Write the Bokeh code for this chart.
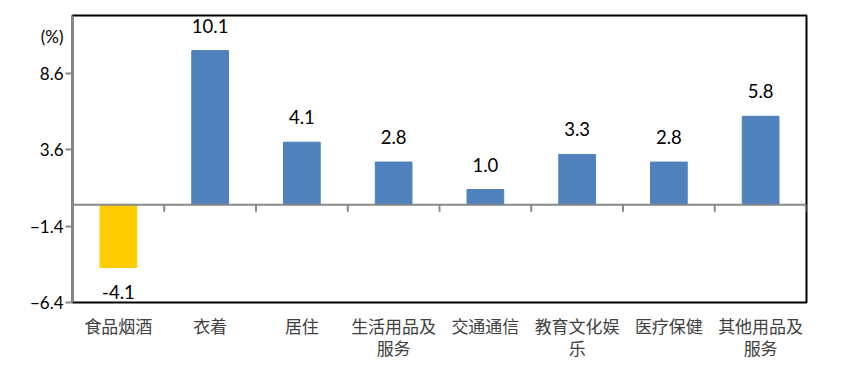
from bokeh.plotting import figure
from bokeh.models import Range1d, FixedTicker, Span, ColumnDataSource, LinearAxis
from bokeh.core.properties import value
from bokeh.embed import file_html
from bokeh.resources import INLINE

categories = ["食品烟酒", "衣着", "居住", "生活用品及服务", "交通通信", "教育文化娱乐", "医疗保健", "其他用品及服务"]
axis_labels = ["食品烟酒", "衣着", "居住", "生活用品及\n服务", "交通通信", "教育文化娱\n乐", "医疗保健", "其他用品及\n服务"]
values = [-4.1, 10.1, 4.1, 2.8, 1.0, 3.3, 2.8, 5.8]
y_ticks = [-6.4, -1.4, 3.6, 8.6]
unit_label = "(%)"
unit_pos = 11.0
y_min, y_max = -6.4, 12.4

BLUE = "#4F81BD"
YELLOW = "#FFCC00"
GRAY = "#898989"
NUM_FONT = "Lato"
CJK_FONT = "Noto Sans CJK SC"

n = len(categories)
centers = [i + 0.5 for i in range(n)]
colors = [YELLOW if v < 0 else BLUE for v in values]
labels = [f"{v:.1f}" for v in values]
offsets = [25 if v < 0 else -25 for v in values]

src = ColumnDataSource(dict(x=centers, top=values, color=colors, label=labels, off=offsets, cat=categories))

p = figure(width=834, height=361, frame_width=734, frame_height=287,
           x_range=Range1d(0, n), y_range=Range1d(y_min, y_max),
           output_backend="svg", toolbar_location=None, y_axis_location=None,
           min_border_left=72, min_border_right=28, min_border_top=15, min_border_bottom=59)
p.grid.visible = False
p.outline_line_color = "black"
p.outline_line_width = 2
p.background_fill_color = "white"
p.border_fill_color = "white"

p.vbar(x="x", top="top", bottom=0, width=0.4, color="color", source=src)

# zero baseline with category-boundary ticks
p.add_layout(Span(location=0, dimension="width", line_color=GRAY, line_width=2))
p.segment(x0=list(range(1, n + 1)), y0=[0] * n, x1=list(range(1, n + 1)), y1=[-0.45] * n,
          line_color=GRAY, line_width=2)

# value labels
p.text(x="x", y="top", text="label", y_offset="off", source=src,
       text_align="center", text_baseline="middle",
       text_font=value(NUM_FONT), text_font_size="18.5px", text_color="black")

# inner y axis: line + tick marks only
ya_ticks = LinearAxis(ticker=FixedTicker(ticks=y_ticks))
ya_ticks.minor_tick_line_color = None
ya_ticks.major_tick_in = 0
ya_ticks.major_tick_out = 7
ya_ticks.major_tick_line_color = GRAY
ya_ticks.major_tick_line_width = 2
ya_ticks.axis_line_color = GRAY
ya_ticks.axis_line_width = 2
ya_ticks.major_label_overrides = {t: "" for t in y_ticks}
ya_ticks.major_label_standoff = 0
p.add_layout(ya_ticks, "left")

# outer y axis: tick labels + unit label
lab_ticks = y_ticks + [unit_pos]
ya_lab = LinearAxis(ticker=FixedTicker(ticks=lab_ticks))
ya_lab.minor_tick_line_color = None
ya_lab.major_tick_line_color = None
ya_lab.major_tick_in = 0
ya_lab.major_tick_out = 0
ya_lab.axis_line_color = None
ya_lab.major_label_standoff = 2
ya_lab.major_label_overrides = {unit_pos: unit_label}
ya_lab.major_label_text_font = NUM_FONT
ya_lab.major_label_text_font_size = "17px"
ya_lab.major_label_text_color = "black"
p.add_layout(ya_lab, "left")

# x axis with category labels
xa = p.xaxis[0]
xa.ticker = FixedTicker(ticks=centers)
xa.major_label_overrides = {c: lab for c, lab in zip(centers, axis_labels)}
xa.axis_line_color = None
xa.major_tick_line_color = None
xa.minor_tick_line_color = None
xa.major_tick_in = 0
xa.major_tick_out = 0
xa.major_label_standoff = 10
xa.major_label_text_font = CJK_FONT
xa.major_label_text_font_size = "17px"
xa.major_label_text_color = "#404040"
xa.major_label_text_line_height = 0.9

open("out.html", "w").write(file_html(p, INLINE))
